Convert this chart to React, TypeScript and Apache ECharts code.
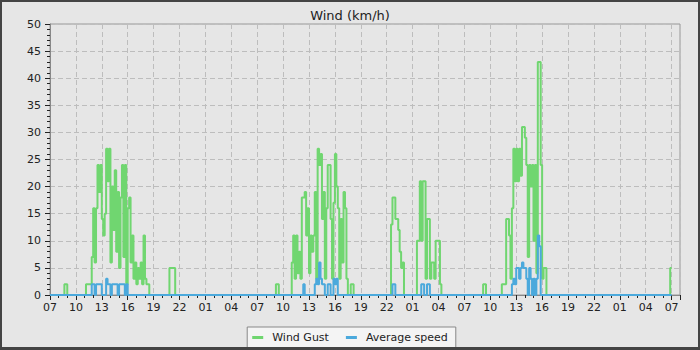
import React, { useEffect, useRef } from "react";
import * as echarts from "echarts";

// Tick labels for the time axis, one every 3 hours starting 07:00
const TICK_LABELS = ["07","10","13","16","19","22","01","04","07","10","13","16","19","22","01","04","07","10","13","16","19","22","01","04","07"];
const START_HOUR = 7;      // first day starts at 07:00
const STEP_MIN = 10;       // sampling step of the readings (minutes)
const TOTAL_HOURS = 72;    // readings span

// Wind gust readings (km/h): [day, start time, consecutive 10-min values]
const gustBursts: [number, string, number[]][] = [
  [0, "08:40", [2, 2]],
  [0, "11:10", [2,2,2,2,7,16,6,16,24,19,24,14,11,15,27,21,27,6,20,12,23,8,19,5,18,24,7,24,2,16,18,6,11,3,6,2,5,3,6,2,11,3,2,2]],
  [0, "20:50", [5, 5, 5, 5]],
  [1, "09:10", [2, 2]],
  [1, "11:00", [6,11,3,11,4,8,3,18,18,19,11,16,4,11,8,11,19,3,27,24,26,14,19,3,16,24,24,14,3,17,26,20,16,3,14,6,19,16,3,0,0,2,2]],
  [1, "22:30", [13,18,18,14,14,12,8,5,6]],
  [2, "01:30", [10,10,21,10,21,21,3,14,14,3,6,6,3,10,10,10,2]],
  [2, "09:10", [2, 2]],
  [2, "11:20", [2,2,2,14,14,11,3,16,27,21,27,21,27,22,31,31,29,24,7,24,20,24,10,24,4,43,43,24,3,5,5]],
  [3, "06:50", [5, 5]],
];

// Average speed readings (km/h)
const avgBursts: [number, string, number[]][] = [
  [0, "11:50", [2,2,0,2,2,2,2,0,0,0,3,2,2,0,2,2,2,2,0,2,2,2,2,0,2]],
  [1, "12:20", [2]],
  [1, "13:40", [2,3,2,6,3,2,2,0,0,2,2,0,0,3,2,3]],
  [1, "22:40", [2, 2]],
  [2, "02:00", [2,2,0,0,2,2]],
  [2, "12:30", [2,3,2,5,5,3,5,6,5,5,3,0,5,3,0,3,0,3,11,9]],
];

function toHours(day: number, hhmm: string): number {
  const [h, m] = hhmm.split(":").map(Number);
  return day * 24 + h + m / 60 - START_HOUR;
}

function buildSeries(bursts: [number, string, number[]][]): [number, number][] {
  const n = (TOTAL_HOURS * 60) / STEP_MIN;
  const vals: number[] = new Array(n + 1).fill(0);
  for (const [d, t, arr] of bursts) {
    const i0 = Math.round((toHours(d, t) * 60) / STEP_MIN);
    arr.forEach((v, k) => {
      if (i0 + k <= n) vals[i0 + k] = v;
    });
  }
  return vals.map((v, i) => [(i * STEP_MIN) / 60, v]);
}

const FONT = "DejaVu Sans";

export default function App() {
  const ref = useRef<HTMLDivElement>(null);
  useEffect(() => {
    if (!ref.current) return;
    const chart = echarts.init(ref.current, null, { renderer: "svg" });
    const gust = buildSeries(gustBursts);
    const avg = buildSeries(avgBursts);
    chart.setOption({
      animation: false,
      backgroundColor: "#e6e6e6",
      textStyle: { fontFamily: FONT },
      title: {
        text: "Wind (km/h)",
        left: "center",
        top: 4,
        textStyle: { fontFamily: FONT, fontSize: 13, fontWeight: "normal", color: "#222" },
      },
      grid: {
        left: 50,
        right: 20,
        top: 24,
        bottom: 55,
        show: true,
        borderColor: "#999",
        borderWidth: 1,
        backgroundColor: "transparent",
      },
      legend: {
        left: "center",
        top: 327,
        icon: "rect",
        itemWidth: 11,
        itemHeight: 3,
        itemGap: 17,
        padding: [5, 8, 5, 5],
        backgroundColor: "#f4f4f4",
        borderColor: "#888",
        borderWidth: 1,
        textStyle: { fontFamily: FONT, fontSize: 11, color: "#222", padding: [0, 0, 0, 4] },
        data: ["Wind Gust", "Average speed"],
      },
      xAxis: {
        type: "value",
        min: 0,
        max: 72.97,
        interval: 3,
        axisLine: { show: true, lineStyle: { color: "#888", width: 1 } },
        axisTick: { show: true, length: 5, lineStyle: { color: "#222" } },
        minorTick: { show: true, splitNumber: 3, length: 3, lineStyle: { color: "#222" } },
        axisLabel: {
          fontFamily: FONT,
          fontSize: 11,
          color: "#222",
          margin: 7,
          showMaxLabel: false,
          formatter: (v: number) => {
            const i = Math.round(v / 3);
            return Math.abs(i * 3 - v) < 1e-6 ? TICK_LABELS[i] ?? "" : "";
          },
        },
        splitLine: { show: true, lineStyle: { color: "#bdbdbd", type: [5, 3], width: 1 } },
      },
      yAxis: {
        type: "value",
        min: 0,
        max: 50,
        interval: 5,
        axisLine: { show: true, lineStyle: { color: "#888", width: 1 } },
        axisTick: { show: true, length: 5, lineStyle: { color: "#222" } },
        minorTick: { show: true, splitNumber: 5, length: 3, lineStyle: { color: "#222" } },
        axisLabel: { fontFamily: FONT, fontSize: 11, color: "#222", margin: 9 },
        splitLine: { show: true, lineStyle: { color: "#bdbdbd", type: [5, 3], width: 1 } },
      },
      series: [
        {
          name: "Wind Gust",
          type: "line",
          step: "end",
          data: gust,
          showSymbol: false,
          symbol: "none",
          color: "#70d670",
          lineStyle: { color: "#70d670", width: 2 },
        },
        {
          name: "Average speed",
          type: "line",
          step: "end",
          data: avg,
          showSymbol: false,
          symbol: "none",
          color: "#4ba9dc",
          lineStyle: { color: "#4ba9dc", width: 2 },
        },
      ],
      graphic: [
        {
          type: "rect",
          z: 100,
          silent: true,
          shape: { x: 1, y: 1, width: 698, height: 348 },
          style: { fill: "none", stroke: "#444", lineWidth: 2 },
        },
        {
          type: "rect",
          z: 100,
          silent: true,
          shape: { x: 0, y: 347, width: 700, height: 3 },
          style: { fill: "#444" },
        },
      ],
    });
    return () => chart.dispose();
  }, []);
  return (
    <div
      ref={ref}
      style={{ position: "absolute", left: 0, top: 0, width: 700, height: 350 }}
    />
  );
}
